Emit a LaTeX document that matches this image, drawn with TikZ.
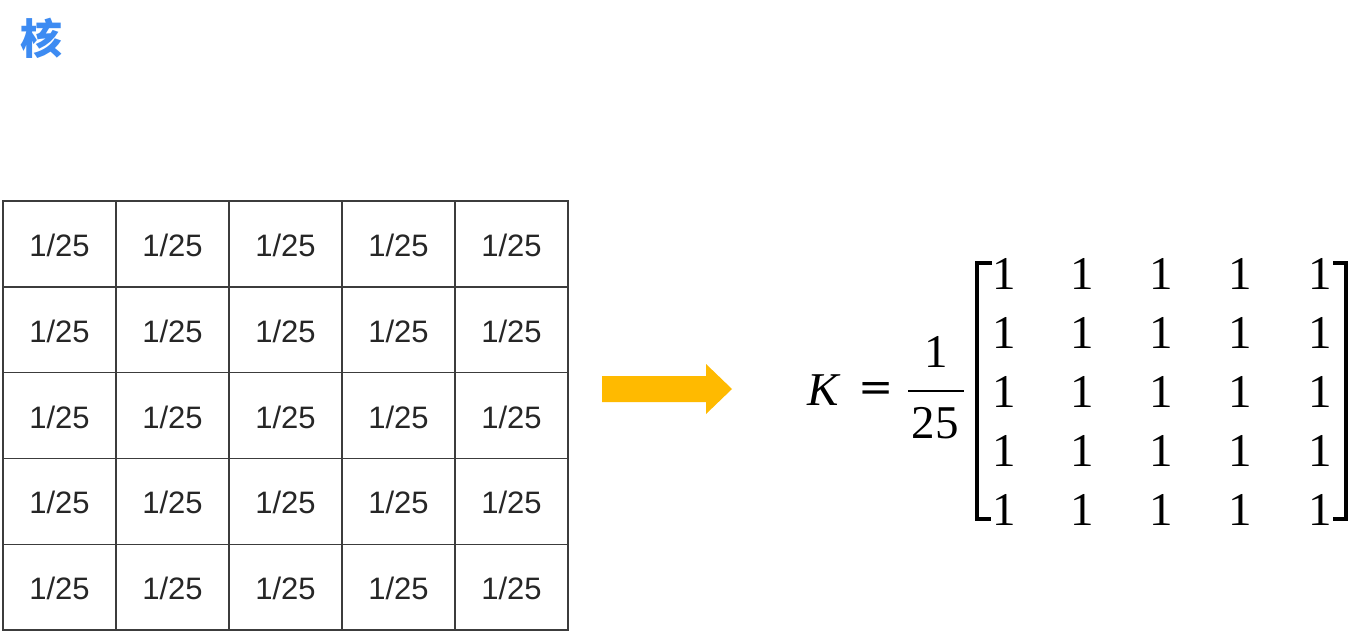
\documentclass[tikz,border=0pt]{standalone}
\usepackage{fontspec}
\setmainfont{Liberation Sans}
\newfontfamily\cjkfont{Noto Sans CJK SC}
\newfontfamily\mathserif{Liberation Serif}
\newfontfamily\eqfont{DejaVu Serif}
\definecolor{titleblue}{HTML}{3D8BF2}
\definecolor{arrowgold}{HTML}{FFBA00}
\definecolor{gridgray}{HTML}{3C3C3C}
\tikzset{
  cell/.style={draw=gridgray, line width=1.4pt, minimum width=113pt, minimum height=85.8pt, inner sep=0pt},
  celltext/.style={font=\fontsize{31}{31}\selectfont, text=black!85, inner sep=0pt, anchor=base},
  mtx/.style={font=\mathserif\fontsize{47}{47}\selectfont, inner sep=0pt, anchor=base},
  brk/.style={line width=3.6pt, line cap=butt, line join=miter},
}
\begin{document}
\begin{tikzpicture}[x=1pt,y=-1pt]
\useasboundingbox (0,0) rectangle (1358,637);
\fill[white] (0,0) rectangle (1358,637);
% title
\node[font=\cjkfont\bfseries\fontsize{42}{42}\selectfont, text=titleblue, inner sep=0pt] (title) at (41,38) {核};
% grid
\foreach \i in {1,...,5}{
  \foreach \j in {1,...,5}{
    \pgfmathsetmacro{\cx}{3+113*(\j-1)+56.5}
    \pgfmathsetmacro{\cy}{201+85.8*(\i-1)+42.9}
    \node[cell] (c-\i-\j) at (\cx,\cy) {};
    \node[celltext] (t-\i-\j) at (\cx,\cy+12.5) {1/25};
  }
}
% arrow
\fill[arrowgold] (602,376) -- (706,376) -- (706,364) -- (732,389) -- (706,414) -- (706,402) -- (602,402) -- cycle;
% formula
\node[mtx] (K) at (823,405) {\itshape K};
\node[font=\eqfont\fontsize{42}{42}\selectfont, inner sep=0pt] (eq) at (876,392) {=};
\node[mtx] (num) at (936,367) {1};
\node[mtx] (den) at (935,438) {25};
\draw[line width=2.4pt] (908,391) -- (964,391);
\foreach \i in {1,...,5}{
  \foreach \j/\x in {1/1004,2/1082,3/1161,4/1240,5/1320}{
    \pgfmathsetmacro{\by}{289+59*(\i-1)}
    \node[mtx] (m-\i-\j) at (\x,\by) {1};
  }
}
\draw[brk] (992,263) -- (977,263) -- (977,519) -- (991,519);
\draw[brk] (1333,263) -- (1346,263) -- (1346,519) -- (1333,519);
\end{tikzpicture}
\end{document}
